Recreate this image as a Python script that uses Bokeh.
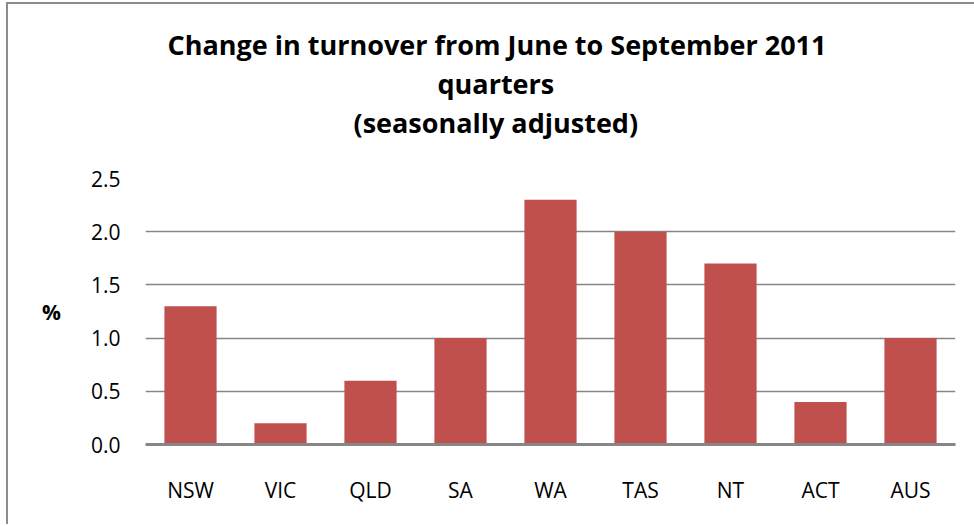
from bokeh.plotting import figure
from bokeh.models import (Title, Range1d, NumeralTickFormatter, FixedTicker, ColumnDataSource,
                          CategoricalAxis)
from bokeh.embed import file_html
from bokeh.resources import INLINE

categories = ["NSW", "VIC", "QLD", "SA", "WA", "TAS", "NT", "ACT", "AUS"]
values = [1.3, 0.2, 0.6, 1.0, 2.3, 2.0, 1.7, 0.4, 1.0]
y_ticks = [0.0, 0.5, 1.0, 1.5, 2.0, 2.5]
title_lines = ["Change in turnover from June to September 2011",
               "quarters",
               "(seasonally adjusted)"]
y_label = "%"

FONT = "Open Sans"
GRID = "#868686"
BAR = "#C0504D"

source = ColumnDataSource(data=dict(cat=categories, val=values))

p = figure(x_range=categories, y_range=Range1d(0, 2.5),
           frame_width=810, frame_height=266,
           min_border_left=137, min_border_right=19,
           min_border_top=174, min_border_bottom=80,
           output_backend="svg", toolbar_location=None, title=None)
p.styles = {"border-left": "2px solid #8c8c8c", "border-top": "2px solid #8c8c8c",
            "margin-left": "6px", "margin-top": "2px"}
p.outline_line_color = None
p.background_fill_color = "white"
p.border_fill_color = "white"

# invisible spacer (blank axis) between the plot frame and the title block
spacer = CategoricalAxis(axis_line_color=None, major_tick_line_color=None,
                         minor_tick_line_color=None, major_tick_in=0, major_tick_out=38,
                         major_label_standoff=0, major_label_text_font_size="1px",
                         major_label_text_color=None, major_label_text_alpha=0,
                         major_label_overrides={c: "" for c in categories})
p.add_layout(spacer, "above")

# title lines, stacked upward from the plot (last line first)
title_offsets = [22, 292, 208]
title_standoffs = [0, 0, 0]
for line, off, so in reversed(list(zip(title_lines, title_offsets, title_standoffs))):
    p.add_layout(Title(text=line, align="left", offset=off, standoff=so,
                       text_font=FONT, text_font_size="27px", text_font_style="bold",
                       text_line_height=0.92, text_color="black"), "above")

p.vbar(x="cat", top="val", width=0.58, source=source, color=BAR, line_color=None)

p.xgrid.grid_line_color = None
p.ygrid.grid_line_color = GRID
p.ygrid.grid_line_width = 1.5
p.ygrid.ticker = FixedTicker(ticks=y_ticks)

p.yaxis.ticker = FixedTicker(ticks=y_ticks)
p.yaxis.formatter = NumeralTickFormatter(format="0.0")
p.yaxis.axis_line_color = None
p.yaxis.major_tick_line_color = None
p.yaxis.minor_tick_line_color = None
p.yaxis.major_tick_out = 0
p.yaxis.major_label_standoff = 25
p.yaxis.major_label_text_font = FONT
p.yaxis.major_label_text_font_size = "21px"
p.yaxis.major_label_text_color = "black"
p.yaxis.axis_label = y_label
p.yaxis.axis_label_orientation = "horizontal"
p.yaxis.axis_label_text_font = FONT
p.yaxis.axis_label_text_font_size = "21px"
p.yaxis.axis_label_text_font_style = "bold"
p.yaxis.axis_label_text_color = "black"
p.yaxis.axis_label_standoff = 27

xax = p.below[0]
xax.axis_line_color = GRID
xax.axis_line_width = 3
xax.major_tick_line_color = None
xax.minor_tick_line_color = None
xax.major_tick_out = 0
xax.major_label_standoff = 31
xax.major_label_text_font = FONT
xax.major_label_text_font_size = "21px"
xax.major_label_text_color = "black"

open("out.html", "w").write(file_html(p, INLINE))
